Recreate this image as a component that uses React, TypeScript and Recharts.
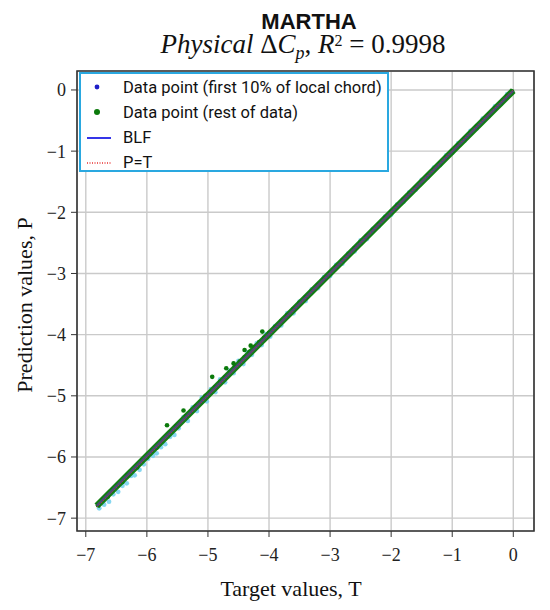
import React from "react";
import {
  ComposedChart,
  Scatter,
  XAxis,
  YAxis,
  CartesianGrid,
  ReferenceArea,
} from "recharts";

// tick positions
const xTicks = [-7, -6, -5, -4, -3, -2, -1, 0];
const yTicks = [-7, -6, -5, -4, -3, -2, -1, 0];

// data points, first 10% of local chord (target / prediction)
const leadT = [
  -6.78, -6.7, -6.62, -6.55, -6.47, -6.4, -6.33, -6.26, -6.2, -6.12, -6.05, -5.98, -5.9, -5.84,
  -5.77, -5.7, -5.62, -5.55, -5.48, -5.4, -5.33, -5.25, -5.18, -5.1, -5.02, -4.95, -4.88, -4.8,
  -4.72, -4.65, -4.58, -4.5, -4.42, -4.35, -4.28, -4.2, -4.12, -4.05, -3.98, -3.9, -3.8, -3.7,
  -3.6, -3.5, -3.4, -3.3, -3.2, -3.1, -3.0, -2.9, -2.8, -2.7, -2.6, -2.5, -2.4, -2.3, -2.2, -2.1,
  -2.0, -1.9, -1.8, -1.7, -1.6, -1.5, -1.4, -1.3, -1.2, -1.1, -1.0, -0.9, -0.8, -0.7, -0.6, -0.5,
  -0.4, -0.3, -0.2, -0.1,
];
const leadP = [
  -6.84, -6.78, -6.73, -6.61, -6.57, -6.47, -6.43, -6.31, -6.3, -6.21, -6.12, -6.03, -5.98, -5.94,
  -5.84, -5.79, -5.67, -5.64, -5.53, -5.35, -5.41, -5.19, -5.25, -5.03, -5.09, -4.89, -4.94, -4.73,
  -4.78, -4.59, -4.63, -4.43, -4.48, -4.29, -4.33, -4.14, -4.17, -3.99, -4.03, -3.86, -3.85, -3.65,
  -3.65, -3.46, -3.45, -3.26, -3.24, -3.06, -3.04, -2.86, -2.84, -2.67, -2.64, -2.46, -2.44, -2.27,
  -2.23, -2.07, -2.04, -1.87, -1.83, -1.67, -1.63, -1.47, -1.43, -1.27, -1.23, -1.07, -1.03, -0.87,
  -0.83, -0.67, -0.63, -0.47, -0.43, -0.27, -0.23, -0.07,
];

// data points, rest of data
const restT = [
  -6.8, -6.72, -6.64, -6.56, -6.48, -6.4, -6.32, -6.24, -6.16, -6.08, -6.0, -5.92, -5.84, -5.76,
  -5.67, -5.6, -5.52, -5.4, -5.36, -5.28, -5.2, -5.12, -5.04, -4.96, -4.93, -4.88, -4.8, -4.72,
  -4.7, -4.64, -4.58, -4.56, -4.48, -4.4, -4.4, -4.32, -4.3, -4.24, -4.16, -4.11, -4.08, -4.0,
  -3.9, -3.8, -3.7, -3.6, -3.5, -3.4, -3.3, -3.2, -3.1, -3.0, -2.9, -2.8, -2.7, -2.6, -2.5, -2.4,
  -2.3, -2.2, -2.1, -2.0, -1.9, -1.8, -1.7, -1.6, -1.5, -1.4, -1.3, -1.2, -1.1, -1.0, -0.9, -0.8,
  -0.7, -0.6, -0.5, -0.4, -0.3, -0.2, -0.1, -0.02,
];
const restP = [
  -6.79, -6.7, -6.65, -6.54, -6.47, -6.41, -6.3, -6.23, -6.17, -6.06, -6.01, -5.9, -5.85, -5.74,
  -5.48, -5.58, -5.5, -5.24, -5.33, -5.26, -5.17, -5.1, -5.0, -4.94, -4.69, -4.86, -4.77, -4.7,
  -4.55, -4.61, -4.47, -4.53, -4.44, -4.25, -4.37, -4.28, -4.18, -4.2, -4.12, -3.95, -4.05, -3.97,
  -3.88, -3.78, -3.68, -3.58, -3.48, -3.39, -3.29, -3.19, -3.09, -2.99, -2.89, -2.79, -2.69, -2.59,
  -2.49, -2.39, -2.29, -2.19, -2.09, -1.99, -1.89, -1.79, -1.69, -1.6, -1.5, -1.4, -1.3, -1.2,
  -1.1, -1.0, -0.9, -0.8, -0.7, -0.6, -0.5, -0.4, -0.3, -0.2, -0.1, -0.02,
];

// best linear fit and the P = T reference line
const blfT = [-6.82, 0];
const blfP = [-6.8, -0.01];
const idealT = [-6.82, 0];
const idealP = [-6.82, 0];

const leadData = leadT.map((t, i) => ({ t, p: leadP[i] }));
const restData = restT.map((t, i) => ({ t, p: restP[i] }));
const blfData = blfT.map((t, i) => ({ t, p: blfP[i] }));
const idealData = idealT.map((t, i) => ({ t, p: idealP[i] }));

const X_DOMAIN: [number, number] = [-7.144, 0.339];
const Y_DOMAIN: [number, number] = [-7.21, 0.31];

const fmt = (v: number) => (v < 0 ? `\u2212${Math.abs(v)}` : `${v}`);
const tickStyle = { fontFamily: "Liberation Serif", fontSize: 18, fill: "#222" };

const dot = (color: string, r: number, opacity = 1) => (props: any) =>
  <circle cx={props.cx} cy={props.cy} r={r} fill={color} fillOpacity={opacity} />;
const noDot = () => <g />;

const legendRows = [
  { label: "Data point (first 10% of local chord)", kind: "dot", color: "#1f1fc8" },
  { label: "Data point (rest of data)", kind: "dot", color: "#0b7a0b" },
  { label: "BLF", kind: "line", color: "#3535e8" },
  { label: "P=T", kind: "dotted", color: "#e83030" },
];

export default function App() {
  return (
    <div
      style={{
        position: "absolute",
        left: 0,
        top: 0,
        width: 550,
        height: 610,
        background: "#fff",
        overflow: "hidden",
      }}
    >
      <ComposedChart
        width={550}
        height={610}
        margin={{ top: 71, right: 16, bottom: 19, left: 17 }}
      >
        <CartesianGrid stroke="#cacaca" strokeWidth={1.4} />
        <XAxis
          type="number"
          dataKey="t"
          domain={X_DOMAIN}
          allowDataOverflow
          ticks={xTicks}
          tickFormatter={fmt}
          tick={tickStyle}
          tickSize={6}
          tickMargin={11}
          axisLine={false}
          tickLine={{ stroke: "#333" }}
          height={60}
        />
        <YAxis
          type="number"
          dataKey="p"
          domain={Y_DOMAIN}
          allowDataOverflow
          ticks={yTicks}
          tickFormatter={fmt}
          tick={tickStyle}
          tickSize={6}
          tickMargin={5}
          axisLine={false}
          tickLine={{ stroke: "#333" }}
          width={60}
        />
        <ReferenceArea
          x1={X_DOMAIN[0]}
          x2={X_DOMAIN[1]}
          y1={Y_DOMAIN[0]}
          y2={Y_DOMAIN[1]}
          fill="none"
          stroke="#333"
          strokeWidth={1.6}
          ifOverflow="visible"
        />
        <Scatter data={leadData} dataKey="p" shape={dot("#79d3ee", 2.4, 0.9)} isAnimationActive={false} />
        <Scatter
          data={blfData}
          dataKey="p"
          shape={noDot}
          line={{ stroke: "#127f12", strokeWidth: 6.5 }}
          isAnimationActive={false}
        />
        <Scatter data={restData} dataKey="p" shape={dot("#0b7a0b", 2.3)} isAnimationActive={false} />
        <Scatter
          data={blfData}
          dataKey="p"
          shape={noDot}
          line={{ stroke: "#4a4a78", strokeWidth: 2.6 }}
          isAnimationActive={false}
        />
        <Scatter
          data={idealData}
          dataKey="p"
          shape={noDot}
          line={{ stroke: "#d03030", strokeWidth: 1, strokeDasharray: "1 2" }}
          isAnimationActive={false}
        />
      </ComposedChart>

      <div
        style={{
          position: "absolute",
          left: 309,
          top: 21,
          transform: "translate(-50%, -50%)",
          fontFamily: "Liberation Sans",
          fontWeight: "bold",
          fontSize: 22,
          lineHeight: "17px",
          whiteSpace: "nowrap",
          color: "#111",
        }}
      >
        MARTHA
      </div>
      <div
        style={{
          position: "absolute",
          left: 303,
          top: 46,
          transform: "translate(-50%, -50%)",
          fontFamily: "Liberation Serif",
          fontSize: 27,
          lineHeight: "20px",
          whiteSpace: "nowrap",
          color: "#111",
        }}
      >
        <i>Physical</i> Δ<i>C</i>
        <span style={{ fontSize: 18, fontStyle: "italic", position: "relative", top: 6 }}>p</span>
        , <i>R</i>
        <span style={{ fontSize: 16, position: "relative", top: -7 }}>2</span> = 0.9998
      </div>

      <div
        style={{
          position: "absolute",
          left: 291,
          top: 589,
          transform: "translate(-50%, -50%)",
          fontFamily: "Liberation Serif",
          fontSize: 22,
          whiteSpace: "nowrap",
          color: "#111",
        }}
      >
        Target values, T
      </div>
      <div
        style={{
          position: "absolute",
          left: 25,
          top: 305,
          transform: "translate(-50%, -50%) rotate(-90deg)",
          fontFamily: "Liberation Serif",
          fontSize: 22,
          whiteSpace: "nowrap",
          color: "#111",
        }}
      >
        Prediction values, P
      </div>

      <div
        style={{
          position: "absolute",
          left: 79,
          top: 72,
          width: 306,
          height: 96,
          border: "2px solid #2aa8e0",
          background: "#fff",
        }}
      >
        {legendRows.map((row, i) => (
          <div
            key={row.label}
            style={{
              position: "absolute",
              left: 0,
              top: i * 25.3,
              height: 26,
              display: "flex",
              alignItems: "center",
              whiteSpace: "nowrap",
            }}
          >
            <svg width={42} height={26}>
              {row.kind === "dot" && <circle cx={16} cy={13} r={i === 0 ? 2.4 : 3} fill={row.color} />}
              {row.kind === "line" && (
                <line x1={6} x2={30} y1={13} y2={13} stroke={row.color} strokeWidth={2} />
              )}
              {row.kind === "dotted" && (
                <line
                  x1={6}
                  x2={30}
                  y1={13}
                  y2={13}
                  stroke={row.color}
                  strokeWidth={1.5}
                  strokeDasharray="1 1.5"
                />
              )}
            </svg>
            <span
              style={{
                fontFamily: "Roboto, sans-serif",
                fontSize: 16.5,
                color: "#111",
              }}
            >
              {row.label}
            </span>
          </div>
        ))}
      </div>
    </div>
  );
}
